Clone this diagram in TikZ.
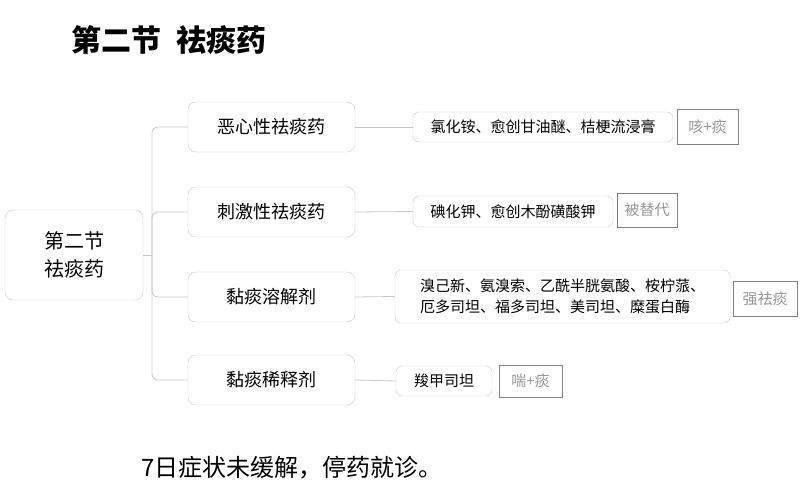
\documentclass[tikz,border=0pt]{standalone}
\usepackage{fontspec}
\setmainfont{Noto Sans CJK SC}
\usetikzlibrary{positioning}
\definecolor{boxline}{RGB}{200,200,200}
\definecolor{tagline}{RGB}{130,130,130}
\definecolor{tagtext}{RGB}{150,150,150}
\begin{document}
\begin{tikzpicture}[x=1pt, y=-1pt,
    topic/.style={draw=boxline, rounded corners=8pt, fill=white, align=center, inner sep=0pt},
    drug/.style={draw=boxline, rounded corners=6pt, fill=white, inner sep=0pt, align=left, font=\fontsize{15}{21}\selectfont},
    tag/.style={draw=tagline, line width=1pt, text=tagtext, inner sep=0pt, font=\fontsize{15}{17}\selectfont},
    link/.style={draw=boxline, line width=0.8pt}]
    \useasboundingbox (0,0) rectangle (800,500);
    % title
    \node [anchor=west, font=\fontsize{30}{34}\selectfont\bfseries] (title) at (68,40) {第二节\hspace{0.5em}祛痰药};

    % root and first level
    \node [topic, minimum width=138pt, minimum height=90pt, font=\fontsize{20}{28}\selectfont] (root) at (74,255) {第二节\\祛痰药};
    \foreach \name/\y/\txt in {nausea/127/恶心性祛痰药, irritant/212/刺激性祛痰药, mucolytic/297/黏痰溶解剂, diluent/380/黏痰稀释剂}
      \node [topic, minimum width=167pt, minimum height=50pt, font=\fontsize{18}{21}\selectfont] (\name) at (271.5,\y) {\txt};

    % second level
    \node [drug, minimum width=260pt, minimum height=30pt] (drugA) at (543,127) {氯化铵、愈创甘油醚、桔梗流浸膏};
    \node [drug, minimum width=200pt, minimum height=31pt] (drugB) at (513,211.5) {碘化钾、愈创木酚磺酸钾};
    \node [drug, minimum width=335pt, minimum height=53pt] (drugC) at (562.5,296.5) {溴己新、氨溴索、乙酰半胱氨酸、桉柠蒎、\\厄多司坦、福多司坦、美司坦、糜蛋白酶};
    \node [drug, minimum width=96pt, minimum height=30pt] (drugD) at (444,381) {羧甲司坦};

    % tags
    \node [tag, minimum width=61pt, minimum height=34pt] (tagA) at (707.5,127) {咳+痰};
    \node [tag, minimum width=60pt, minimum height=34pt] (tagB) at (647,210) {被替代};
    \node [tag, minimum width=64pt, minimum height=35pt] (tagC) at (765,298.5) {强祛痰};
    \node [tag, minimum width=63pt, minimum height=32pt] (tagD) at (530.5,381) {喘+痰};

    % connectors
    \coordinate (fork) at (152,255);
    \draw [link] (root.east) -- (fork);
    \draw [link, rounded corners=6pt] (nausea.west) -| (fork) |- (diluent.west);
    \draw [link, rounded corners=6pt] (irritant.west) -| (fork);
    \draw [link, rounded corners=6pt] (mucolytic.west) -| (fork);
    \draw [link] (nausea.east) -- (drugA.west);
    \draw [link] (irritant.east) -- (drugB.west);
    \draw [link] (mucolytic.east) -- (drugC.west);
    \draw [link] (diluent.east) -- (drugD.west);

    % note
    \node [anchor=west, font=\fontsize{24}{28}\selectfont] (note) at (138,468) {7日症状未缓解，停药就诊。};
\end{tikzpicture}
\end{document}
